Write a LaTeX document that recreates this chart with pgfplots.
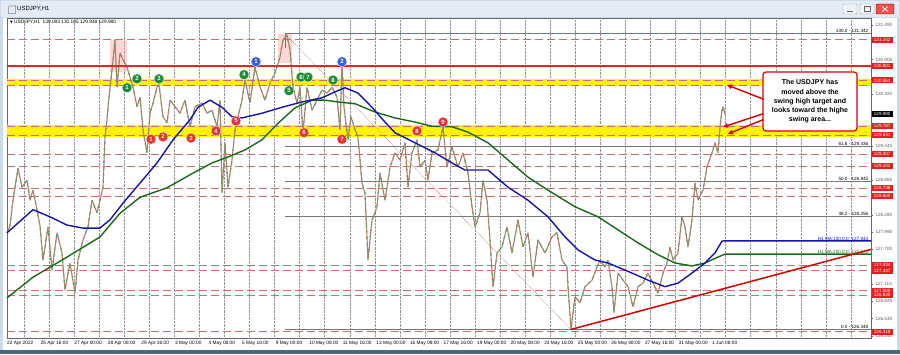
\documentclass[border=0pt]{standalone}
\usepackage{fontspec}
\setmainfont{Liberation Sans}
\newfontfamily\dejavu{DejaVu Sans}
\usepackage{pgfplots}
\pgfplotsset{compat=1.18}
\usetikzlibrary{arrows.meta}
\definecolor{dashred}{RGB}{205,110,110}
\definecolor{linered}{RGB}{235,35,35}
\definecolor{mablue}{RGB}{20,20,175}
\definecolor{magreen}{RGB}{25,105,25}
\definecolor{candle}{RGB}{195,120,110}
\definecolor{candleg}{RGB}{95,165,95}
\definecolor{fibgray}{RGB}{120,120,120}
\definecolor{winframe}{RGB}{205,218,232}
\definecolor{titlebar}{RGB}{228,235,244}
\definecolor{bottomstrip}{RGB}{70,105,125}
\definecolor{cgreen}{RGB}{30,140,50}
\definecolor{cred}{RGB}{232,50,42}
\definecolor{cblue}{RGB}{60,95,225}
\definecolor{labred}{RGB}{230,30,30}

\pgfplotstableread{
x p
7 127.98
10 128.10
13 128.53
18 129.07
22 128.75
27 128.87
30 128.53
33 128.70
37 128.37
40 128.10
43 127.52
48 128.08
52 127.35
57 127.98
62 127.64
65 127.01
70 127.47
75 126.96
78 127.52
83 127.86
88 128.08
92 128.53
97 128.32
100 128.53
103 128.75
105 129.60
107 129.89
109 130.27
112 130.73
115 131.24
117 130.44
120 131.02
123 130.90
127 130.78
130 130.61
133 130.44
137 130.11
140 130.27
143 129.72
147 129.33
150 130.00
153 130.17
157 130.44
159 130.48
163 129.94
167 129.84
170 130.22
175 130.11
180 130.00
185 130.22
190 129.77
195 130.11
202 130.17
207 130.00
212 130.05
217 129.77
220 130.22
222 128.65
225 129.50
228 128.75
232 129.21
235 129.72
238 129.94
242 130.22
245 130.56
250 130.17
255 130.78
260 130.44
265 130.22
270 130.51
275 130.68
280 130.95
283 131.24
287 131.32
290 131.07
293 130.44
297 130.17
300 130.44
303 129.67
307 130.44
312 130.05
317 130.22
322 130.39
327 130.34
332 130.44
337 130.27
340 129.72
342 130.85
344 130.11
348 129.55
351 129.94
355 129.72
358 129.60
362 128.82
365 128.65
368 127.52
372 128.20
375 128.32
377 128.42
380 128.99
385 128.53
390 129.09
395 129.33
400 129.21
405 129.50
408 128.75
412 129.33
417 129.55
420 129.09
425 129.21
428 128.87
432 129.33
438 129.38
443 129.77
447 129.09
452 129.43
458 129.09
463 129.33
468 128.99
472 128.42
475 128.08
480 128.32
483 128.87
487 128.53
490 127.86
493 127.07
497 127.64
502 127.74
507 128.08
512 127.64
518 128.20
523 127.74
528 127.98
533 127.23
538 127.86
545 127.64
552 127.91
557 127.98
562 127.52
567 127.40
568 127.07
571 126.35
575 126.90
580 126.80
585 127.07
592 127.18
597 127.40
600 127.52
605 127.40
608 127.52
612 127.07
614 126.63
618 127.30
623 127.18
628 127.07
633 126.73
638 127.07
643 127.13
648 127.30
653 127.13
658 126.96
663 127.30
667 127.47
670 127.74
673 127.52
678 127.64
682 128.25
685 128.08
688 127.74
692 128.20
695 128.82
698 128.53
703 128.70
707 129.09
712 129.33
715 129.50
718 129.33
720 129.77
722 130.05
723 130.11
725 129.98
}\price

\pgfplotstableread{
x p
7 127.98
33 128.37
50 128.25
67 128.11
83 128.06
100 128.06
110 128.20
123 128.48
140 128.82
157 129.16
173 129.55
190 129.89
198 130.10
210 130.22
222 130.10
232 129.94
242 129.92
262 130.00
282 130.10
302 130.19
322 130.26
335 130.36
345 130.43
358 130.34
372 130.10
385 129.85
395 129.67
415 129.50
435 129.33
452 129.16
465 129.04
488 129.04
508 128.75
528 128.53
548 128.25
565 127.91
578 127.69
595 127.52
608 127.47
632 127.30
648 127.18
665 127.07
678 127.13
692 127.30
705 127.47
715 127.64
722 127.84
725 127.844
871 127.844
}\maA

\pgfplotstableread{
x p
7 126.88
33 127.23
67 127.57
100 127.91
120 128.31
140 128.58
167 128.74
190 128.96
212 129.16
228 129.26
245 129.38
262 129.55
278 129.83
295 130.09
312 130.22
325 130.22
338 130.19
355 130.16
375 130.02
395 129.92
415 129.85
432 129.78
452 129.77
468 129.68
488 129.50
508 129.21
528 128.92
548 128.70
575 128.42
598 128.25
618 128.03
638 127.81
658 127.61
675 127.47
692 127.42
705 127.47
718 127.57
725 127.62
871 127.62
}\maB

\begin{document}
\begin{tikzpicture}[x=1pt,y=1pt]
% window frame
\fill[winframe] (-7,-16) rectangle (893,338);
\fill[titlebar] (-6,321) rectangle (892,337);
\fill[white] (-4,-12) rectangle (890,320);
\fill[bottomstrip] (-7,-16) rectangle (893,-12);
\draw[gray!70, line width=0.4pt] (1,325) rectangle (8,333);
\fill[gray!40] (1,331) rectangle (8,333);
\node[anchor=west, font=\fontsize{6}{7}\selectfont, inner sep=0pt] at (10,329) {USDJPY,H1};
\draw[gray!70, fill=titlebar!60!white, rounded corners=1pt] (836,324) rectangle (850,334);
\draw[gray!70, fill=titlebar!60!white, rounded corners=1pt] (853,324) rectangle (867,334);
\draw[red!60!black, fill=cred!85!white, rounded corners=1pt] (869,324) rectangle (887,334);
\draw[white, line width=0.8pt] (875,326.5) -- (881,331.5) (875,331.5) -- (881,326.5);
\draw[gray!80!black, line width=0.8pt] (840,327) -- (846,327);
\draw[gray!80!black, line width=0.5pt] (857,326.5) rectangle (863,331.5);

\begin{axis}[
  at={(0pt,0pt)}, anchor=south west,
  width=864pt, height=320pt, scale only axis,
  xmin=7, xmax=871, ymin=126.203, ymax=131.608,
  clip=false,
  axis line style={gray!80!black, line width=0.5pt},
  xtick={24,49.06,74.12,99.18,124.24,149.3,174.36,199.42,224.48,249.54,274.6,299.66,324.72,349.78,374.84,399.9,424.96,450.02,475.08,500.14,525.2,550.26,575.32,600.38,625.44,650.5,675.56,700.62,725.68,750.74,775.8,800.86,825.92,850.98},
  xticklabels={},
  xmajorgrids, major grid style={densely dotted, gray!85, line width=0.5pt},
  major x tick style={draw=none},
  extra x ticks={7,40.57,74.14,107.71,141.28,174.85,208.42,241.99,275.56,309.13,342.7,376.27,409.84,443.41,476.98,510.55,544.12,577.69,611.26,644.83,678.4,711.97},
  extra x tick labels={22 Apr 2022,25 Apr 16:00,27 Apr 00:00,28 Apr 08:00,29 Apr 16:00,3 May 00:00,4 May 08:00,5 May 16:00,9 May 00:00,10 May 08:00,11 May 16:00,13 May 00:00,16 May 08:00,17 May 16:00,19 May 00:00,20 May 08:00,23 May 16:00,25 May 00:00,26 May 08:00,27 May 16:00,31 May 00:00,1 Jun 08:00},
  extra x tick style={grid=none, major tick length=2pt, tick align=outside, xtick pos=bottom,
    tick style={draw=gray!80!black, line width=0.4pt},
    xticklabel style={anchor=north west, xshift=-1pt, yshift=0.5pt, font=\fontsize{4.8}{5}\selectfont, inner sep=1pt}},
  ytick={131.490,130.905,130.320,129.445,128.865,128.280,127.990,127.700,127.115,126.825,126.530,126.240},
  yticklabel pos=right, ytick pos=right,
  tick align=outside, major tick length=2pt,
  y tick style={draw=gray!80!black, line width=0.4pt},
  yticklabel style={font=\fontsize{4.6}{5}\selectfont, text=gray!70!black, xshift=-1pt,
    /pgf/number format/.cd, fixed, fixed zerofill, precision=3, 1000 sep={}, assume math mode=true},
]
% yellow bands
\fill[yellow] (axis cs:7,130.455) rectangle (axis cs:871,130.575);
\fill[yellow] (axis cs:7,129.600) rectangle (axis cs:871,129.800);
% pink highlight rectangles
\fill[red!35, opacity=0.45] (axis cs:110,130.70) rectangle (axis cs:127,131.24);
\fill[red!35, opacity=0.45] (axis cs:278,130.85) rectangle (axis cs:292,131.33);
% dashed levels
\foreach \lv in {131.242,130.553,130.475,129.775,129.631,129.307,129.102,128.738,128.600,127.434,127.337,127.000,126.930,126.310}{
  \edef\tmp{\noexpand\draw[dashred, line width=0.8pt, dash pattern=on 8pt off 4pt] (axis cs:7,\lv) -- (axis cs:871,\lv);}\tmp
}
% fib lines
\foreach \lv in {131.342,129.436,128.845,128.256,126.348}{
  \edef\tmp{\noexpand\draw[fibgray, line width=0.6pt] (axis cs:285,\lv) -- (axis cs:871,\lv);}\tmp
}
\draw[fibgray, line width=0.6pt] (axis cs:285,131.342) -- (axis cs:285,131.10);
\draw[red!40!gray, densely dotted, line width=0.5pt] (axis cs:285,131.342) -- (axis cs:571,126.348);
\node[anchor=south east, inner sep=0.6pt, font=\fontsize{4.6}{5}\selectfont] at (axis cs:869,131.342) {100.0 - 131.342};
\node[anchor=south east, inner sep=0.6pt, font=\fontsize{4.6}{5}\selectfont] at (axis cs:869,129.436) {61.8 - 129.436};
\node[anchor=south east, inner sep=0.6pt, font=\fontsize{4.6}{5}\selectfont] at (axis cs:869,128.845) {50.0 - 128.845};
\node[anchor=south east, inner sep=0.6pt, font=\fontsize{4.6}{5}\selectfont] at (axis cs:869,128.256) {38.2 - 128.256};
\node[anchor=south east, inner sep=0.6pt, font=\fontsize{4.6}{5}\selectfont] at (axis cs:869,126.348) {0.0 - 126.348};

% price (candle look: red-brown with green segments)
\addplot[candle, line width=1.1pt, line join=bevel] table[x=x, y=p] {\price};
\addplot[candleg, line width=1.1pt, line join=bevel, dash pattern=on 2.5pt off 4pt] table[x=x, y=p] {\price};
% moving averages
\addplot[magreen, line width=1.4pt] table[x=x, y=p] {\maB};
\addplot[mablue, line width=1.4pt] table[x=x, y=p] {\maA};
\node[anchor=south east, inner sep=0.6pt, text=mablue, font=\fontsize{4.6}{5}\selectfont] at (axis cs:869,127.844) {H1 MA:100:0:0: 127.844};
\node[anchor=south east, inner sep=0.6pt, text=magreen, font=\fontsize{4.6}{5}\selectfont] at (axis cs:869,127.62) {H1 MA:200:0:0: 127.620};

% solid red level and trend line
\draw[linered, line width=2pt] (axis cs:7,130.801) -- (axis cs:871,130.801);
\draw[red!85!black, line width=1.5pt] (axis cs:571,126.348) -- (axis cs:871,127.70);

% numbered circles
\tikzset{nc/.style={circle, inner sep=0pt, minimum size=10pt, text=white, draw=white, line width=0.3pt, font=\fontsize{6}{6}\selectfont\bfseries}}
\node[nc, fill=cgreen] at (axis cs:127,130.43) {1};
\node[nc, fill=cgreen] at (axis cs:137,130.58) {2};
\node[nc, fill=cgreen] at (axis cs:159,130.58) {3};
\node[nc, fill=cgreen] at (axis cs:244,130.65) {4};
\node[nc, fill=cgreen] at (axis cs:289,130.38) {5};
\node[nc, fill=cgreen] at (axis cs:301,130.61) {6};
\node[nc, fill=cgreen] at (axis cs:308,130.61) {7};
\node[nc, fill=cgreen] at (axis cs:333,130.56) {8};
\node[nc, fill=cblue] at (axis cs:256,130.87) {1};
\node[nc, fill=cblue] at (axis cs:342,130.87) {2};
\node[nc, fill=cred] at (axis cs:151,129.56) {1};
\node[nc, fill=cred] at (axis cs:163,129.60) {2};
\node[nc, fill=cred] at (axis cs:191,129.58) {3};
\node[nc, fill=cred] at (axis cs:216,129.70) {4};
\node[nc, fill=cred] at (axis cs:236,129.87) {5};
\node[nc, fill=cred] at (axis cs:304,129.67) {6};
\node[nc, fill=cred] at (axis cs:342,129.56) {7};
\node[nc, fill=cred] at (axis cs:417,129.70) {8};
\node[nc, fill=cred] at (axis cs:443,129.85) {9};

% header
\node[anchor=north west, inner sep=0pt, font=\fontsize{4.8}{5}\selectfont] at (axis cs:10,131.58) {{\dejavu\fontsize{3.5}{4}\selectfont ▼}\ USDJPY,H1\ \ 130.093 130.105 129.948 129.980};

% annotation
\node[draw=red!85!black, line width=1.2pt, rounded corners=3pt, fill=white, minimum width=94pt, minimum height=59pt, align=center, inner sep=1pt, font=\fontsize{7}{9.2}\selectfont\bfseries] at (axis cs:810,130.198) {The USDJPY has\\moved above the\\swing high target and\\looks toward the highe\\swing area...};
\draw[-{Triangle[length=5pt,width=4.5pt]}, red!85!black, line width=1.4pt] (axis cs:763,130.24) -- (axis cs:727,130.477);
\draw[-{Triangle[length=5pt,width=4.5pt]}, red!85!black, line width=1.4pt] (axis cs:763,129.99) -- (axis cs:723,129.767);
\draw[-{Triangle[length=5pt,width=4.5pt]}, red!85!black, line width=1.4pt] (axis cs:763,129.89) -- (axis cs:728,129.65);

% right price labels
\tikzset{rl/.style={anchor=west, fill=labred, text=white, inner sep=0.4pt, minimum width=21pt, minimum height=6pt, font=\fontsize{4.6}{5}\selectfont}}
\foreach \lv in {131.242,130.801,130.553,129.787,129.631,129.307,129.102,128.738,128.600,127.434,127.337,127.000,126.930,126.310}{
  \edef\tmp{\noexpand\node[rl] at (axis cs:871.5,\lv) {\lv};}\tmp
}
\node[rl, fill=black] at (axis cs:871.5,129.980) {129.980};
\end{axis}
\pgfresetboundingbox
\path[use as bounding box] (-7,-16) rectangle (893,338);
\end{tikzpicture}
\end{document}
